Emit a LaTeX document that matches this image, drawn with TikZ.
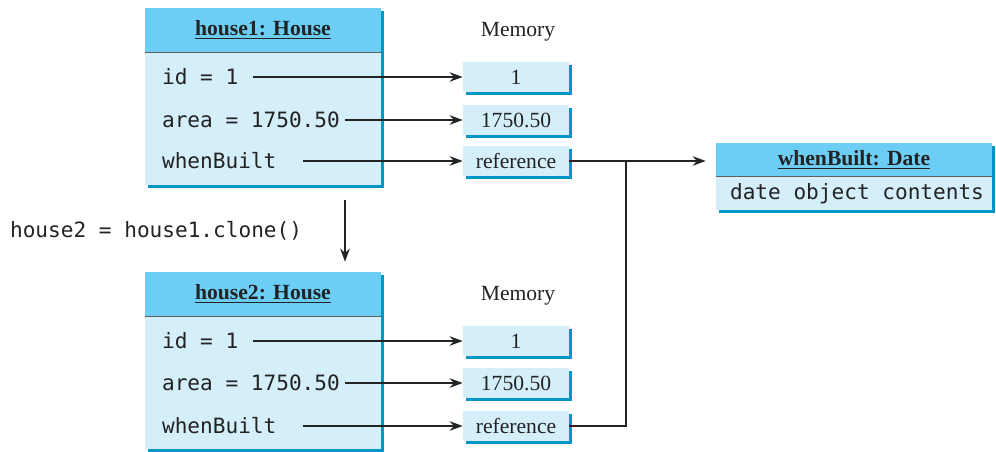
\documentclass[tikz,border=0pt]{standalone}
\usepackage{fontspec}
\setmainfont{Liberation Serif}
\setmonofont{DejaVu Sans Mono}
\usetikzlibrary{arrows.meta,positioning,shadows}
\definecolor{ink}{RGB}{35,35,35}
\definecolor{edge}{RGB}{95,95,95}
\definecolor{headblue}{RGB}{108,206,245}
\definecolor{bodyblue}{RGB}{212,238,250}
\definecolor{shadeblue}{RGB}{0,150,200}
\tikzset{
  objbody/.style={fill=bodyblue,inner sep=0pt,
    general shadow={fill=shadeblue,shadow xshift=0.06cm,shadow yshift=-0.06cm}},
  objhead/.style={fill=headblue,inner sep=0pt,text=ink,
    font=\fontsize{12.3}{14}\selectfont\bfseries},
  field/.style={font=\fontsize{12}{14}\selectfont\ttfamily,text=ink,inner sep=1pt},
  cell/.style={fill=bodyblue,inner sep=0pt,minimum width=2.12cm,minimum height=0.6cm,
    font=\fontsize{12.3}{14}\selectfont,text=ink,
    general shadow={fill=shadeblue,shadow xshift=0.06cm,shadow yshift=-0.06cm}},
  lbl/.style={font=\fontsize{12.3}{14}\selectfont,text=ink},
  arr/.style={-{Stealth[length=2.6mm,width=1.9mm]},line width=1.1pt,ink},
  wire/.style={line width=1.1pt,ink},
}

\begin{document}
\begin{tikzpicture}[x=0.02cm,y=-0.02cm]
  \useasboundingbox (0,0) rectangle (996,452);
  % first object
  \node[objbody,minimum width=4.72cm,minimum height=3.54cm] (house1) at (263,96.5) {};
  \node[objhead,minimum width=4.72cm,minimum height=0.88cm,anchor=north] (head1)
    at (house1.north) {\underline{house1: House}};
  \draw[edge,line width=0.8pt] (head1.south west) -- (head1.south east);
  \node[field,anchor=west] (id1) at (160,77) {id = 1};
  \node[field,anchor=west] (area1) at (160,120) {area = 1750.50};
  \node[field,anchor=west] (wb1) at (160,161) {whenBuilt};
  \node[lbl] (mem1) at (518,32) {Memory};
  \node[cell] (m1) at (516,77) {1};
  \node[cell] (m2) at (516,120) {1750.50};
  \node[cell] (m3) at (516,161) {reference};
  \foreach \f/\m/\g in {id1/m1/0.25,area1/m2/0.065,wb1/m3/0.5}
    \draw[arr] ([xshift=\g cm]\f.east) -- (\m.west);

  % second object
  \node[objbody,minimum width=4.72cm,minimum height=3.54cm] (house2) at (263,360.5) {};
  \node[objhead,minimum width=4.72cm,minimum height=0.88cm,anchor=north] (head2)
    at (house2.north) {\underline{house2: House}};
  \draw[edge,line width=0.8pt] (head2.south west) -- (head2.south east);
  \node[field,anchor=west] (id2) at (160,341) {id = 1};
  \node[field,anchor=west] (area2) at (160,383) {area = 1750.50};
  \node[field,anchor=west] (wb2) at (160,426) {whenBuilt};
  \node[lbl] (mem2) at (518,296) {Memory};
  \node[cell] (n1) at (516,341) {1};
  \node[cell] (n2) at (516,383) {1750.50};
  \node[cell] (n3) at (516,426) {reference};
  \foreach \f/\m/\g in {id2/n1/0.25,area2/n2/0.065,wb2/n3/0.5}
    \draw[arr] ([xshift=\g cm]\f.east) -- (\m.west);

  % clone step
  \node[field,anchor=west] (clone) at (8,231) {house2 = house1.clone()};
  \coordinate (cl) at (345,200);
  \draw[arr,shorten >=0.2cm] (cl) -- (cl |- house2.north);

  % shared date object
  \node[objbody,minimum width=5.52cm,minimum height=1.34cm] (date) at (854,176.5) {};
  \node[objhead,minimum width=5.52cm,minimum height=0.66cm,anchor=north] (dhead)
    at (date.north) {\underline{whenBuilt: Date}};
  \draw[edge,line width=0.8pt] (dhead.south west) -- (dhead.south east);
  \node[field] (dtext) at (857,194) {date object contents};
  \coordinate (jn) at (626,161);
  \draw[arr,shorten >=0.2cm] (m3.east) -- (m3.east -| dhead.west);
  \draw[wire] (n3.east) -| (jn);
\end{tikzpicture}
\end{document}
